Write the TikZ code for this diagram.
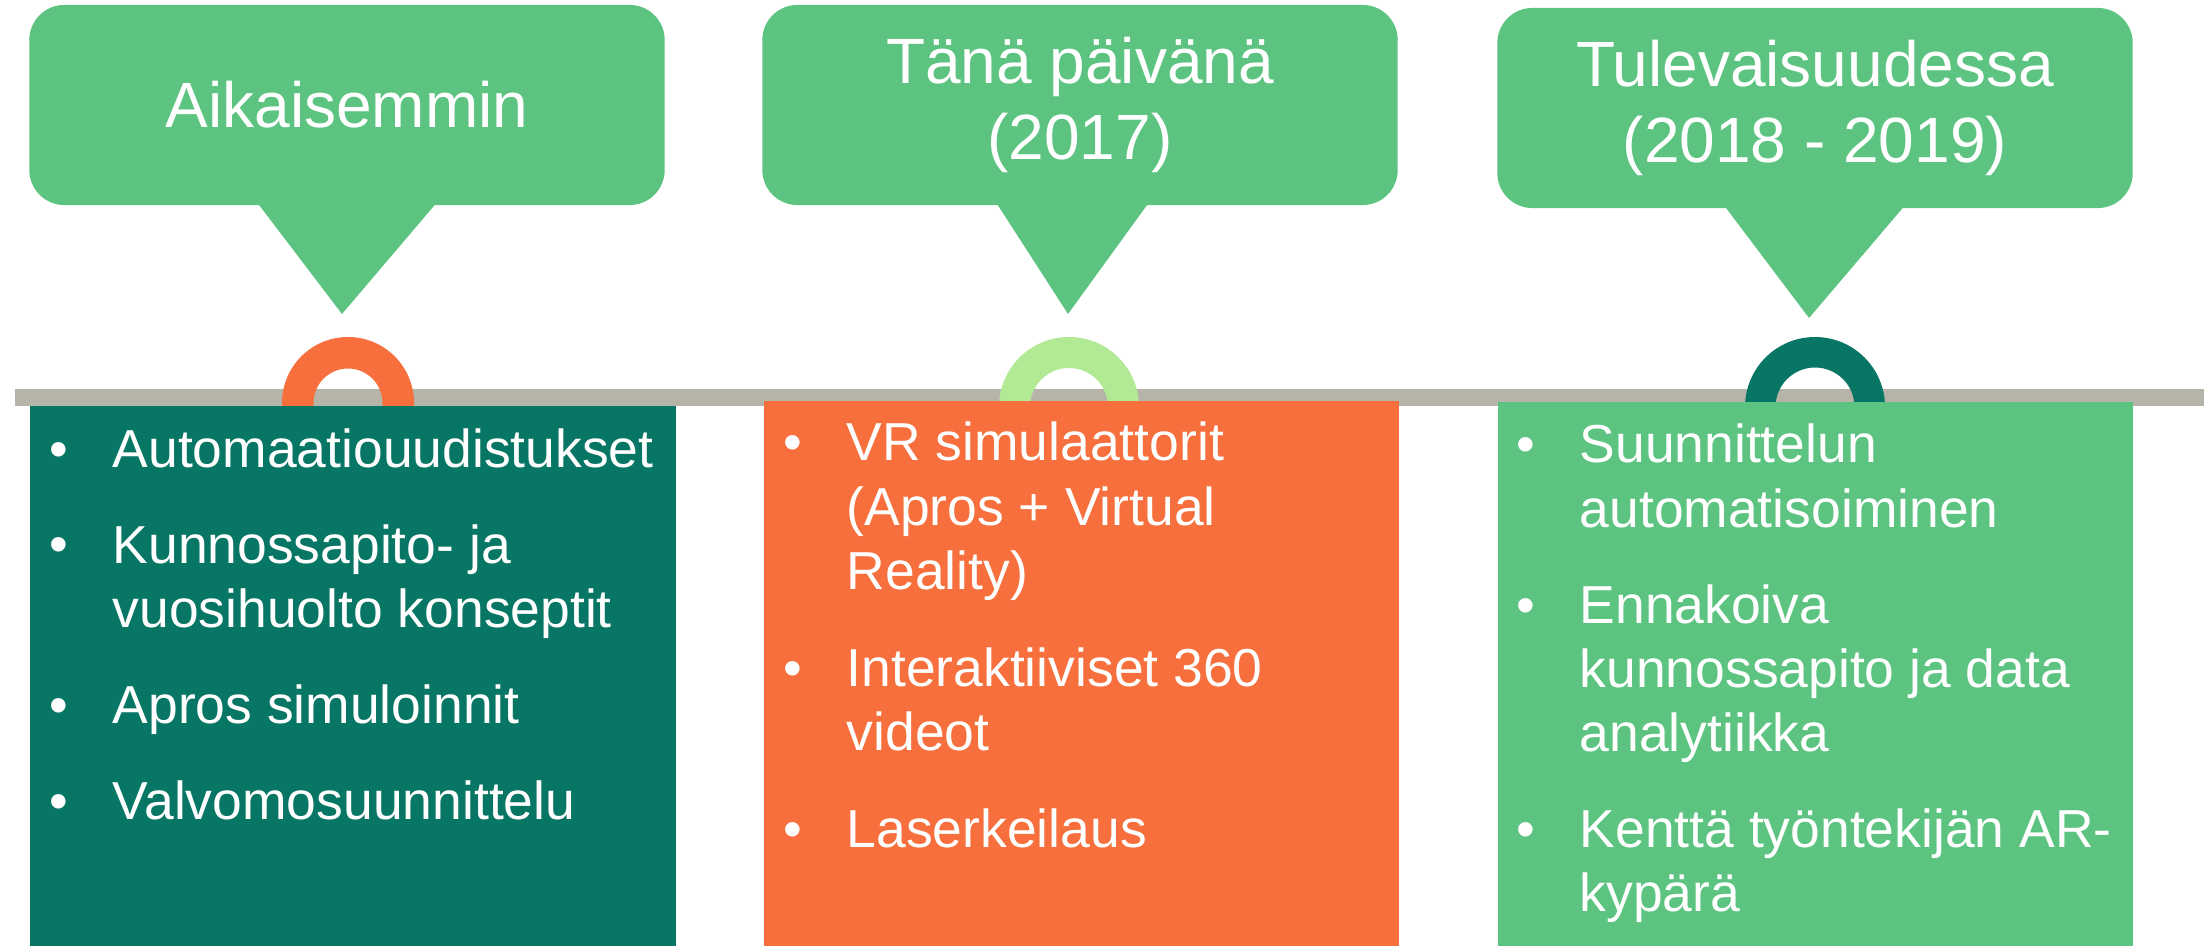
\documentclass[tikz,border=0pt]{standalone}
\usepackage{fontspec}
\setmainfont{Liberation Sans}
\usetikzlibrary{positioning}
\definecolor{tlgreen}{RGB}{92,196,128}
\definecolor{tlteal}{RGB}{8,118,100}
\definecolor{tlorange}{RGB}{246,111,60}
\definecolor{tllight}{RGB}{178,233,148}
\definecolor{tlgray}{RGB}{182,179,168}

\begin{document}
\begin{tikzpicture}[
    x=0.01cm, y=-0.01cm,
    % Define styles
    callout/.style={rectangle, rounded corners=0.35cm, fill=tlgreen, text=white, align=center, inner sep=0pt, minimum width=6.35cm, minimum height=2cm, font=\fontsize{18.2}{21.6}\selectfont},
    panel/.style={rectangle, anchor=north west, inner sep=0pt, minimum width=6.35cm},
    pointer/.style={fill=tlgreen},
    itemtext/.style={anchor=base west, align=left, inner sep=0pt, text=white, font=\fontsize{15.2}{18.2}\selectfont},
    dot/.style={anchor=base, inner sep=0pt, text=white, font=\fontsize{15.2}{18.2}\selectfont}
]
\useasboundingbox (0,0) rectangle (2204,946);

% Timeline bar
\fill[tlgray] (15,389) rectangle (2204,406);

% Ring markers
\fill[tlorange, even odd rule] (348,403) circle[radius=66] (348,403) circle[radius=34.5];
\fill[tllight, even odd rule] (1069,407) circle[radius=70] (1069,407) circle[radius=39];
\fill[tlteal, even odd rule] (1815,407) circle[radius=70] (1815,407) circle[radius=39.5];

% Callouts
\node[callout] (c1) at (347,105) {Aikaisemmin};
\node[callout] (c2) at (1080,105) {Tänä päivänä\\(2017)};
\node[callout] (c3) at (1815,108) {Tulevaisuudessa\\(2018 - 2019)};

\coordinate (tip1) at (342,314);
\coordinate (tip2) at (1068,314);
\coordinate (tip3) at (1809,318);

\fill[pointer] ([xshift=-0.9cm, yshift=1pt]c1.south) -- ([xshift=0.9cm, yshift=1pt]c1.south) -- (tip1) -- cycle;
\fill[pointer] ([xshift=-0.84cm, yshift=1pt]c2.south) -- ([xshift=0.69cm, yshift=1pt]c2.south) -- (tip2) -- cycle;
\fill[pointer] ([xshift=-0.91cm, yshift=1pt]c3.south) -- ([xshift=0.9cm, yshift=1pt]c3.south) -- (tip3) -- cycle;

% Panels
\node[panel, fill=tlteal, minimum width=6.46cm, minimum height=5.41cm] (p1) at (29,405) {};
\node[panel, fill=tlorange, minimum height=5.46cm] (p2) at (763,400) {};
\node[panel, fill=tlgreen, minimum height=5.45cm] (p3) at (1497,401) {};

% Items (placed at the baseline of their last line)
\node[itemtext] (t11) at (112,467) {Automaatiouudistukset};
\node[itemtext] (t12) at (112,627) {Kunnossapito- ja\\vuosihuolto konseptit};
\node[itemtext] (t13) at (112,723) {Apros simuloinnit};
\node[itemtext] (t14) at (112,819) {Valvomosuunnittelu};

\node[itemtext] (t21) at (846,589) {VR simulaattorit\\(Apros + Virtual\\Reality)};
\node[itemtext] (t22) at (846,750) {Interaktiiviset 360\\videot};
\node[itemtext] (t23) at (846,847) {Laserkeilaus};

\node[itemtext] (t31) at (1579,527) {Suunnittelun\\automatisoiminen};
\node[itemtext] (t32) at (1579,751) {Ennakoiva\\kunnossapito ja data\\analytiikka};
\node[itemtext] (t33) at (1579,911) {Kenttä työntekijän AR-\\kypärä};

% Bullets, on the first line of each item
\foreach \t/\n in {t11/0,t12/1,t13/0,t14/0,t21/2,t22/1,t23/0,t31/1,t32/2,t33/1}
    \node[dot] (d\t) at ([xshift=-0.535cm, yshift=\n*18.2pt]\t.base west) {\textbullet};

\end{tikzpicture}
\end{document}
